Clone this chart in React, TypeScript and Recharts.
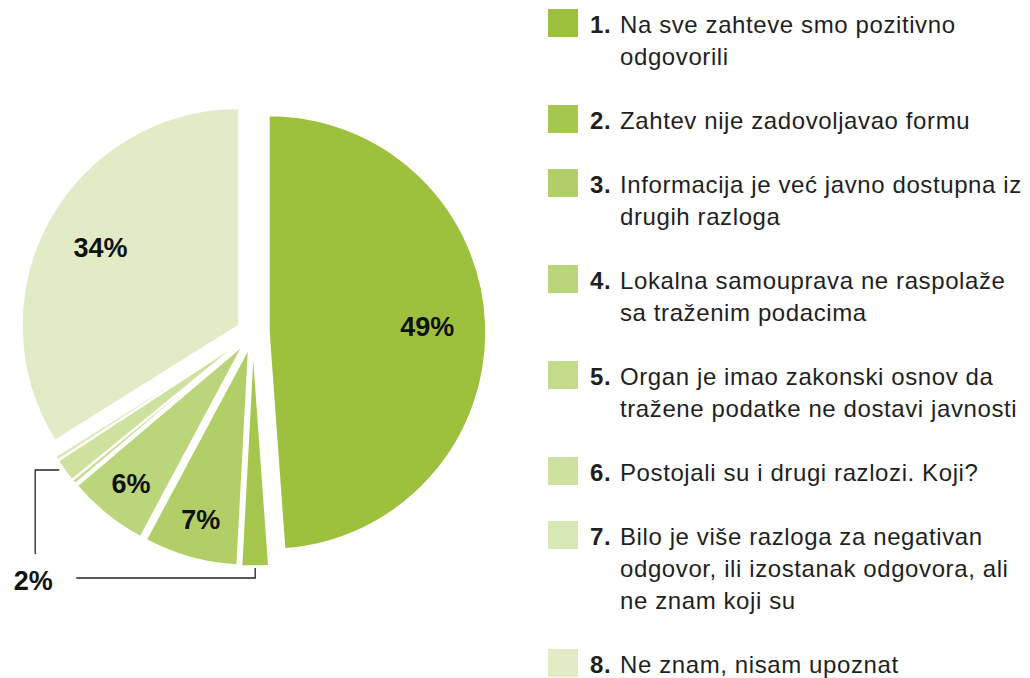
import { PieChart, Pie, Cell } from "recharts";

const legendLines: string[][] = [
  ["Na sve zahteve smo pozitivno", "odgovorili"],
  ["Zahtev nije zadovoljavao formu"],
  ["Informacija je već javno dostupna iz", "drugih razloga"],
  ["Lokalna samouprava ne raspolaže", "sa traženim podacima"],
  ["Organ je imao zakonski osnov da", "tražene podatke ne dostavi javnosti"],
  ["Postojali su i drugi razlozi. Koji?"],
  ["Bilo je više razloga za negativan", "odgovor, ili izostanak odgovora, ali", "ne znam koji su"],
  ["Ne znam, nisam upoznat"],
];
const shares = [49, 2, 7, 6, 0.3, 1.7, 0.3, 34];
const shareLabels = ["49%", "2%", "7%", "6%", "", "2%", "", "34%"];
const colors = ["#9dc13c", "#a6c74e", "#b1cf66", "#bad57a", "#c4db8b", "#cfe19f", "#d8e8b4", "#e1ecc6"];

const data = shares.map((v, i) => ({ name: legendLines[i].join(" "), value: v }));

const W = 1030;
const H = 678;
const CX = 253;
const CY = 333;
const R = 217;
const EXPLODE = 16;
const RAD = Math.PI / 180;
const FONT = "'Liberation Sans', Arial, Helvetica, sans-serif";

const total = shares.reduce((a, b) => a + b, 0);
let acc = 0;
const mids = shares.map((v) => {
  const m = 90 - ((acc + v / 2) / total) * 360;
  acc += v;
  return m;
});

function polar(cx: number, cy: number, r: number, angle: number) {
  return { x: cx + r * Math.cos(angle * RAD), y: cy - r * Math.sin(angle * RAD) };
}

function makeLabel(slice: number) {
  return (props: any) => {
    const { cx, cy, midAngle, outerRadius, index } = props;
    if (index !== slice || !shareLabels[slice]) return null;
    if (slice === 5) return null;
    if (slice === 1) {
      // shared "2%" label with two brackets
      const p = polar(cx, cy, outerRadius + 2, midAngle);
      const tx = p.x - 222;
      const ty = p.y + 13;
      return (
        <g>
          <polyline
            points={`${p.x},${p.y} ${p.x},${p.y + 10} ${p.x - 179},${p.y + 10}`}
            fill="none"
            stroke="#222"
            strokeWidth={1.3}
          />
          <polyline
            points={`${tx + 26},${ty - 111} ${tx + 2},${ty - 111} ${tx + 2},${ty - 27}`}
            fill="none"
            stroke="#222"
            strokeWidth={1.3}
          />
          <text x={tx} y={ty} textAnchor="middle" dominantBaseline="central" fontFamily={FONT} fontSize={27} fontWeight="bold" fill="#111">
            {shareLabels[slice]}
          </text>
        </g>
      );
    }
    const k = slice === 0 || slice === 7 ? 0.73 : 0.82;
    const p = polar(cx, cy, outerRadius * k, midAngle);
    return (
      <text x={p.x} y={p.y} textAnchor="middle" dominantBaseline="central" fontFamily={FONT} fontSize={27} fontWeight="bold" fill="#111">
        {shareLabels[slice]}
      </text>
    );
  };
}

function LegendBlock() {
  let top = 10;
  return (
    <div style={{ position: "absolute", left: 548, top: 0, fontFamily: FONT, fontSize: 24, letterSpacing: 0.6, color: "#1f1f1f" }}>
      {legendLines.map((lines, i) => {
        const y = top;
        top += lines.length * 32 + 32;
        return (
          <div key={i} style={{ position: "absolute", top: y - 1, left: 0, width: 480 }}>
            <div style={{ position: "absolute", left: 0, top: 0, width: 30, height: 28, background: colors[i] }} />
            <div style={{ position: "absolute", left: 42, top: 0, fontWeight: "bold", lineHeight: "32px" }}>{i + 1}.</div>
            <div style={{ position: "absolute", left: 72, top: 0, lineHeight: "32px", whiteSpace: "nowrap" }}>
              {lines.map((l, j) => (
                <div key={j}>{l}</div>
              ))}
            </div>
          </div>
        );
      })}
    </div>
  );
}

export default function App() {
  return (
    <div style={{ position: "absolute", left: 0, top: 0, width: W, height: H, background: "#fff", overflow: "hidden" }}>
      <PieChart width={W} height={H} margin={{ top: 0, right: 0, bottom: 0, left: 0 }}>
        {shares.map((_, s) => {
          const off = polar(0, 0, EXPLODE, mids[s]);
          return (
            <Pie
              key={s}
              data={data}
              dataKey="value"
              nameKey="name"
              cx={CX + off.x}
              cy={CY + off.y}
              outerRadius={R}
              startAngle={90}
              endAngle={-270}
              isAnimationActive={false}
              labelLine={false}
              label={makeLabel(s)}
            >
              {data.map((_, i) => (
                <Cell
                  key={i}
                  fill={i === s ? colors[i] : "none"}
                  stroke={i === s ? "#fff" : "none"}
                  strokeWidth={1.5}
                />
              ))}
            </Pie>
          );
        })}
      </PieChart>
      <LegendBlock />
    </div>
  );
}
